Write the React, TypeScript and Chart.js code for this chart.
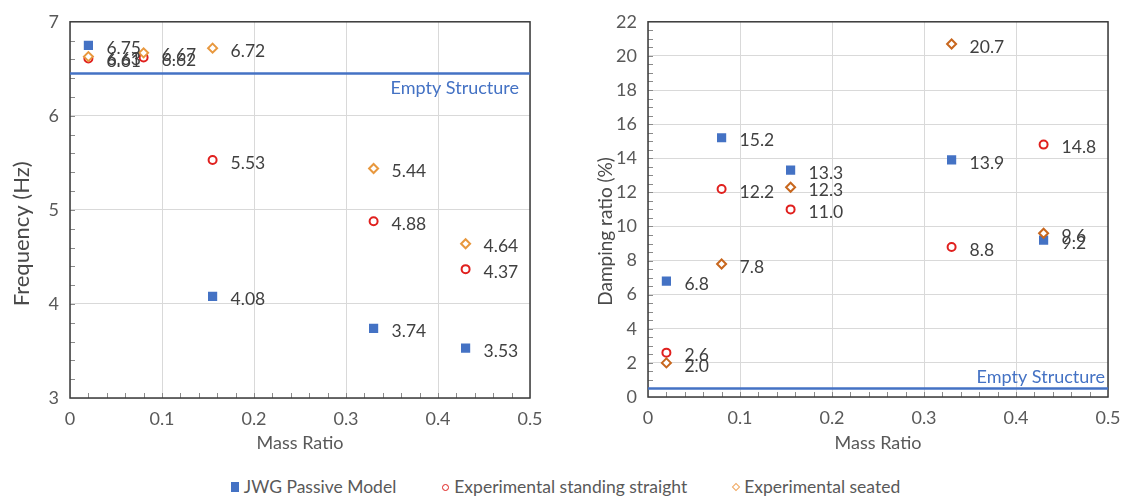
import React, { useEffect, useRef } from 'react';
import { Chart, registerables } from 'chart.js';

Chart.register(...registerables);

// ---------- data ----------
const massRatio = [0.02, 0.08, 0.155, 0.33, 0.43];
const seriesNames = ['JWG Passive Model', 'Experimental standing straight', 'Experimental seated'];

const freqModel = [6.75, null, 4.08, 3.74, 3.53];
const freqStanding = [6.61, 6.62, 5.53, 4.88, 4.37];
const freqSeated = [6.63, 6.67, 6.72, 5.44, 4.64];
const freqEmpty = 6.45;

const dampModel = [6.8, 15.2, 13.3, 13.9, 9.2];
const dampStanding = [2.6, 12.2, 11.0, 8.8, 14.8];
const dampSeated = [2.0, 7.8, 12.3, 20.7, 9.6];
const dampEmpty = 0.5;

const xTickValues = [0, 0.1, 0.2, 0.3, 0.4, 0.5];
const freqTickValues = [3, 4, 5, 6, 7];
const dampTickValues = [0, 2, 4, 6, 8, 10, 12, 14, 16, 18, 20, 22];

const emptyLabel = 'Empty Structure';
const xTitle = 'Mass Ratio';
const freqTitle = 'Frequency (Hz)';
const dampTitle = 'Damping ratio (%)';

// ---------- styles ----------
const FONT = 'Lato, "Noto Sans", sans-serif';
const BLUE = '#4472C4';
const RED = '#E0201E';
const ORANGE_L = '#E8983E';
const ORANGE_R = '#C8671E';
const TICK_COLOR = '#595959';
const LABEL_COLOR = '#404040';

const toPoints = (ys: (number | null)[]) => massRatio.map((x, i) => ({ x, y: ys[i] }));

const valueLabelPlugin = {
  id: 'valueLabels',
  afterDatasetsDraw(chart: any, _args: any, opts: any) {
    const ctx = chart.ctx;
    ctx.save();
    ctx.font = `17.5px ${FONT}`;
    ctx.fillStyle = LABEL_COLOR;
    ctx.textAlign = 'left';
    ctx.textBaseline = 'middle';
    chart.data.datasets.forEach((ds: any, i: number) => {
      if (!ds.valueLabels) return;
      const meta = chart.getDatasetMeta(i);
      meta.data.forEach((el: any, j: number) => {
        const v = ds.data[j].y;
        if (v == null) return;
        ctx.fillText(v.toFixed(opts.decimals), el.x + 18, el.y + 3);
      });
    });
    ctx.restore();
  },
};

const framePlugin = {
  id: 'frameMinor',
  beforeDatasetsDraw(chart: any, _args: any, opts: any) {
    const { ctx, chartArea: a, scales } = chart;
    const x = scales.x;
    const y = scales.y;
    ctx.save();
    ctx.beginPath();
    ctx.strokeStyle = '#8a8a8a';
    ctx.lineWidth = 1;
    const nx = Math.round((x.max - x.min) / opts.xMinor);
    for (let i = 1; i < nx; i++) {
      const px = Math.round(x.getPixelForValue(x.min + i * opts.xMinor)) + 0.5;
      ctx.moveTo(px, a.bottom);
      ctx.lineTo(px, a.bottom - 5);
    }
    const ny = Math.round((y.max - y.min) / opts.yMinor);
    for (let i = 1; i < ny; i++) {
      const py = Math.round(y.getPixelForValue(y.min + i * opts.yMinor)) + 0.5;
      ctx.moveTo(a.left, py);
      ctx.lineTo(a.left + 5, py);
    }
    ctx.stroke();
    ctx.strokeStyle = '#3a3a3a';
    ctx.lineWidth = 1.5;
    ctx.strokeRect(a.left, a.top, a.right - a.left, a.bottom - a.top);
    ctx.restore();
  },
};

const emptyTextPlugin = {
  id: 'emptyText',
  afterDatasetsDraw(chart: any, _args: any, opts: any) {
    const { ctx, chartArea: a, scales } = chart;
    const py = scales.y.getPixelForValue(opts.value);
    ctx.save();
    ctx.font = `18px ${FONT}`;
    ctx.fillStyle = BLUE;
    ctx.textAlign = 'right';
    ctx.textBaseline = 'middle';
    ctx.fillText(opts.text, a.right - opts.inset, py + opts.dy);
    ctx.restore();
  },
};

const yTitlePlugin = {
  id: 'yTitleText',
  afterDraw(chart: any, _args: any, opts: any) {
    const { ctx, chartArea: a } = chart;
    ctx.save();
    ctx.translate(opts.x, (a.top + a.bottom) / 2 + opts.dy);
    ctx.rotate(-Math.PI / 2);
    ctx.font = `${opts.size}px ${FONT}`;
    ctx.fillStyle = '#4a4a4a';
    ctx.textAlign = 'center';
    ctx.textBaseline = 'middle';
    ctx.fillText(opts.text, 0, 0);
    ctx.restore();
  },
};

interface PanelProps {
  model: (number | null)[];
  standing: (number | null)[];
  seated: (number | null)[];
  empty: number;
  yMin: number;
  yMax: number;
  yTicks: number[];
  yMinor: number;
  yTitle: string;
  yTitleSize: number;
  yTitleX: number;
  yTitleDy: number;
  yWidth: number;
  padTop: number;
  padRight: number;
  xHeight: number;
  decimals: number;
  orange: string;
  emptyDy: number;
  emptyInset: number;
  width: number;
  height: number;
}

function Panel(p: PanelProps) {
  const ref = useRef<HTMLCanvasElement | null>(null);
  useEffect(() => {
    if (!ref.current) return;
    const chart = new Chart(ref.current, {
      type: 'scatter',
      data: {
        datasets: [
          {
            label: emptyLabel,
            data: [{ x: 0, y: p.empty }, { x: 0.5, y: p.empty }],
            showLine: true,
            borderColor: BLUE,
            borderWidth: 2.5,
            pointRadius: 0,
            order: 10,
          } as any,
          {
            label: seriesNames[0],
            data: toPoints(p.model),
            pointStyle: 'rect',
            pointRadius: 6.5,
            backgroundColor: BLUE,
            borderColor: BLUE,
            borderWidth: 0,
            order: 3,
            valueLabels: true,
          },
          {
            label: seriesNames[1],
            data: toPoints(p.standing),
            pointStyle: 'circle',
            pointRadius: 4,
            backgroundColor: '#ffffff',
            borderColor: RED,
            borderWidth: 2,
            order: 2,
            valueLabels: true,
          },
          {
            label: seriesNames[2],
            data: toPoints(p.seated),
            pointStyle: 'rectRot',
            pointRadius: 4.5,
            backgroundColor: '#ffffff',
            borderColor: p.orange,
            borderWidth: 2,
            order: 1,
            valueLabels: true,
          },
        ],
      },
      options: {
        responsive: false,
        animation: false,
        devicePixelRatio: 1,
        layout: { padding: { top: p.padTop, right: p.padRight, left: 0, bottom: 0 } },
        plugins: {
          legend: { display: false },
          tooltip: { enabled: false },
          valueLabels: { decimals: p.decimals },
          frameMinor: { xMinor: 0.02, yMinor: p.yMinor },
          emptyText: { value: p.empty, text: emptyLabel, dy: p.emptyDy, inset: p.emptyInset },
          yTitleText: { text: p.yTitle, size: p.yTitleSize, x: p.yTitleX, dy: p.yTitleDy },
        } as any,
        scales: {
          x: {
            type: 'linear',
            min: 0,
            max: 0.5,
            afterBuildTicks: (s: any) => {
              s.ticks = xTickValues.map((v) => ({ value: v }));
            },
            afterFit: (s: any) => {
              s.height = p.xHeight;
            },
            ticks: {
              font: { family: FONT, size: 18 },
              color: TICK_COLOR,
              padding: 10,
              callback: (v: any) => String(+Number(v).toFixed(2)),
            },
            grid: { color: '#D9D9D9', lineWidth: 1, drawTicks: false },
            border: { display: false },
            title: {
              display: true,
              text: xTitle,
              font: { family: FONT, size: 18 },
              color: TICK_COLOR,
              padding: { top: 0, bottom: 6 },
            },
          },
          y: {
            type: 'linear',
            min: p.yMin,
            max: p.yMax,
            afterBuildTicks: (s: any) => {
              s.ticks = p.yTicks.map((v) => ({ value: v }));
            },
            afterFit: (s: any) => {
              s.width = p.yWidth;
            },
            ticks: {
              font: { family: FONT, size: 18 },
              color: TICK_COLOR,
              padding: 11,
              callback: (v: any) => String(v),
            },
            grid: { color: '#D9D9D9', lineWidth: 1, drawTicks: false },
            border: { display: false },
            title: { display: false },
          },
        },
      },
      plugins: [framePlugin, valueLabelPlugin, emptyTextPlugin, yTitlePlugin],
    } as any);
    return () => chart.destroy();
  }, []);
  return (
    <canvas
      ref={ref}
      width={p.width}
      height={p.height}
      style={{ width: p.width, height: p.height, display: 'block' }}
    />
  );
}

function LegendItem({ kind, text }: { kind: string; text: string }) {
  let marker: React.ReactNode;
  if (kind === 'square') {
    marker = <span style={{ display: 'inline-block', width: 8, height: 10, background: BLUE }} />;
  } else if (kind === 'circle') {
    marker = (
      <span
        style={{
          display: 'inline-block',
          width: 5,
          height: 5,
          borderRadius: '50%',
          border: `1.5px solid ${RED}`,
        }}
      />
    );
  } else {
    marker = (
      <span
        style={{
          display: 'inline-block',
          width: 4,
          height: 4,
          border: '1.5px solid #F0A860',
          transform: 'rotate(45deg)',
        }}
      />
    );
  }
  return (
    <div style={{ display: 'flex', alignItems: 'center', gap: 5 }}>
      {marker}
      <span>{text}</span>
    </div>
  );
}

export default function App() {
  useEffect(() => {
    document.body.style.margin = '0';
  }, []);
  return (
    <div style={{ position: 'relative', width: 1131, height: 499, background: '#fff', fontFamily: FONT }}>
      <div style={{ position: 'absolute', left: 0, top: 0 }}>
        <Panel
          model={freqModel}
          standing={freqStanding}
          seated={freqSeated}
          empty={freqEmpty}
          yMin={3}
          yMax={7}
          yTicks={freqTickValues}
          yMinor={0.2}
          yTitle={freqTitle}
          yTitleSize={22}
          yTitleX={22}
          yTitleDy={24}
          yWidth={70}
          padTop={14}
          padRight={30}
          xHeight={62}
          decimals={2}
          orange={ORANGE_L}
          emptyDy={15}
          emptyInset={11}
          width={560}
          height={460}
        />
      </div>
      <div style={{ position: 'absolute', left: 560, top: 0 }}>
        <Panel
          model={dampModel}
          standing={dampStanding}
          seated={dampSeated}
          empty={dampEmpty}
          yMin={0}
          yMax={22}
          yTicks={dampTickValues}
          yMinor={0.5}
          yTitle={dampTitle}
          yTitleSize={19}
          yTitleX={46}
          yTitleDy={22}
          yWidth={88}
          padTop={17}
          padRight={23}
          xHeight={63}
          decimals={1}
          orange={ORANGE_R}
          emptyDy={-11}
          emptyInset={3}
          width={571}
          height={460}
        />
      </div>
      <div
        style={{
          position: 'absolute',
          left: 0,
          top: 476,
          width: 1131,
          display: 'flex',
          justifyContent: 'center',
          gap: 46,
          fontSize: 17.5,
          color: TICK_COLOR,
          lineHeight: '22px',
        }}
      >
        <LegendItem kind="square" text={seriesNames[0]} />
        <LegendItem kind="circle" text={seriesNames[1]} />
        <LegendItem kind="diamond" text={seriesNames[2]} />
      </div>
    </div>
  );
}
